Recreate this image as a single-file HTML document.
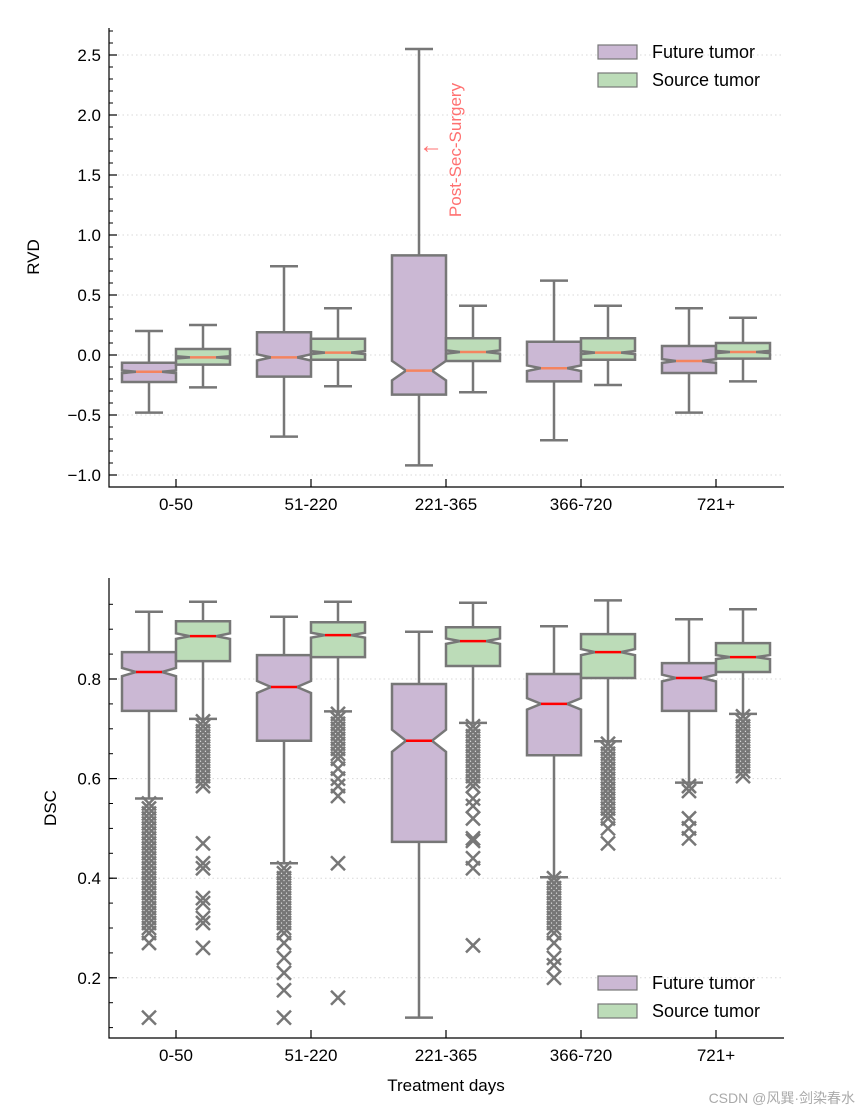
<!DOCTYPE html>
<html><head><meta charset="utf-8"><style>
body{margin:0;background:#fff;}
svg text{font-family:"Liberation Sans","Noto Sans CJK SC",sans-serif;}
</style></head><body>
<svg id="c" width="860" height="1112" viewBox="0 0 860 1112" xmlns="http://www.w3.org/2000/svg"></svg>
<script>
const categories=["0-50","51-220","221-365","366-720","721+"];
// RVD stats [low, q1, median, q3, high]
const rvdFuture=[[-0.48,-0.225,-0.14,-0.065,0.2],[-0.68,-0.18,-0.02,0.19,0.74],[-0.92,-0.33,-0.13,0.83,2.55],[-0.71,-0.22,-0.11,0.11,0.62],[-0.48,-0.15,-0.05,0.075,0.39]];
const rvdSource=[[-0.27,-0.08,-0.02,0.05,0.25],[-0.26,-0.04,0.02,0.135,0.39],[-0.31,-0.05,0.025,0.14,0.41],[-0.25,-0.04,0.02,0.14,0.41],[-0.22,-0.03,0.025,0.1,0.31]];
// DSC stats
const dscFuture=[[0.56,0.736,0.814,0.854,0.935],[0.43,0.676,0.784,0.848,0.925],[0.12,0.473,0.676,0.79,0.895],[0.402,0.647,0.75,0.81,0.906],[0.592,0.736,0.802,0.832,0.92]];
const dscSource=[[0.72,0.836,0.886,0.916,0.955],[0.735,0.844,0.888,0.914,0.955],[0.712,0.826,0.876,0.904,0.953],[0.675,0.802,0.854,0.89,0.958],[0.73,0.814,0.844,0.872,0.94]];
const dscFutureOut=[
[0.55,0.54,0.53,0.52,0.51,0.5,0.49,0.48,0.47,0.46,0.45,0.44,0.43,0.42,0.41,0.4,0.39,0.38,0.37,0.36,0.35,0.34,0.33,0.32,0.31,0.3,0.29,0.27,0.12],
[0.42,0.41,0.4,0.39,0.38,0.37,0.36,0.35,0.34,0.33,0.32,0.31,0.3,0.29,0.27,0.24,0.21,0.175,0.12],
[],
[0.4,0.39,0.38,0.37,0.36,0.35,0.34,0.33,0.32,0.31,0.3,0.29,0.27,0.24,0.225,0.2],
[0.585,0.575,0.52,0.5,0.48]];
const dscSourceOut=[
[0.715,0.705,0.695,0.685,0.675,0.665,0.655,0.645,0.635,0.625,0.615,0.605,0.595,0.585,0.47,0.43,0.42,0.36,0.35,0.32,0.31,0.26],
[0.73,0.72,0.71,0.7,0.69,0.68,0.67,0.66,0.65,0.64,0.62,0.6,0.585,0.565,0.43,0.16],
[0.705,0.695,0.685,0.675,0.665,0.655,0.645,0.635,0.625,0.615,0.605,0.595,0.585,0.56,0.545,0.52,0.48,0.475,0.44,0.42,0.265],
[0.67,0.66,0.65,0.64,0.63,0.62,0.61,0.6,0.59,0.58,0.57,0.56,0.55,0.54,0.53,0.52,0.5,0.47],
[0.725,0.715,0.705,0.695,0.685,0.675,0.665,0.655,0.645,0.635,0.625,0.615,0.605]];
const rvdTicks=[-1.0,-0.5,0.0,0.5,1.0,1.5,2.0,2.5];
const rvdTickLabels=["\u22121.0","\u22120.5","0.0","0.5","1.0","1.5","2.0","2.5"];
const dscTicks=[0.2,0.4,0.6,0.8];
const dscTickLabels=["0.2","0.4","0.6","0.8"];

const NS="http://www.w3.org/2000/svg";
const svg=document.getElementById('c');
function el(tag,attrs,parent){const e=document.createElementNS(NS,tag);for(const k in attrs)e.setAttribute(k,attrs[k]);(parent||svg).appendChild(e);return e;}
const X0=109,X1=784;
const xCat=i=>176+i*135;
const PURPLE="#cbb8d4",GREEN="#bcdcb8",EDGE="#777777";

function panel(o){
  const g=el('g',{});
  
  
  const y=o.y;
  o.ticks.forEach((t,i)=>{
    const gl=el('line',{x1:X0,x2:X1,y1:y(t),y2:y(t),stroke:"#d8d8d8","stroke-width":1,"stroke-dasharray":"1.5,3"},g);
    
    
  });
  for(let v=o.minStart;v<=o.dmax+1e-9;v+=o.minStep){
    const t=el('line',{x1:X0,x2:X0+4,y1:y(v),y2:y(v),stroke:"#000","stroke-width":1},g);
    
    
  }
  o.ticks.forEach((t,i)=>{
    const tk=el('line',{x1:X0,x2:X0+8,y1:y(t),y2:y(t),stroke:"#000","stroke-width":1.2},g);
    
    
    const tl=el('text',{x:X0-8,y:y(t)+6,"text-anchor":"end","font-size":17,fill:"#000"},g);
    tl.textContent=o.tickLabels[i];
    
    
  });
  const drawBox=(s,cx,fill,medColor,outs,nm)=>{
    const bg=el('g',{},g);
    
    
    const [lo,q1,md,q3,hi]=s;
    const hw=27, nw=13;
    let nh=0.07*(q3-q1);
    const nlo=Math.max(q1,md-nh), nhi=Math.min(q3,md+nh);
    el('line',{x1:cx,x2:cx,y1:y(q3),y2:y(hi),stroke:EDGE,"stroke-width":2.5},bg);
    el('line',{x1:cx,x2:cx,y1:y(q1),y2:y(lo),stroke:EDGE,"stroke-width":2.5},bg);
    el('line',{x1:cx-14,x2:cx+14,y1:y(hi),y2:y(hi),stroke:EDGE,"stroke-width":2.5},bg);
    el('line',{x1:cx-14,x2:cx+14,y1:y(lo),y2:y(lo),stroke:EDGE,"stroke-width":2.5},bg);
    const pts=[[cx-hw,y(q1)],[cx+hw,y(q1)],[cx+hw,y(nlo)],[cx+nw,y(md)],[cx+hw,y(nhi)],[cx+hw,y(q3)],[cx-hw,y(q3)],[cx-hw,y(nhi)],[cx-nw,y(md)],[cx-hw,y(nlo)]];
    el('polygon',{points:pts.map(p=>p.join(',')).join(' '),fill:fill,stroke:EDGE,"stroke-width":2.5},bg);
    el('line',{x1:cx-nw,x2:cx+nw,y1:y(md),y2:y(md),stroke:medColor,"stroke-width":2.5},bg);
    (outs||[]).forEach(v=>{
      const yy=y(v);
      const m=el('path',{d:`M${cx-7},${yy-7}L${cx+7},${yy+7}M${cx-7},${yy+7}L${cx+7},${yy-7}`,stroke:EDGE,"stroke-width":2.5,fill:"none"},bg);
      
      
    });
  };
  categories.forEach((c,i)=>{
    drawBox(o.future[i],xCat(i)-27,PURPLE,o.med,o.fOut?o.fOut[i]:null,'future-box-'+c);
    drawBox(o.source[i],xCat(i)+27,GREEN,o.med,o.sOut?o.sOut[i]:null,'source-box-'+c);
    const tk=el('line',{x1:xCat(i),x2:xCat(i),y1:o.yb,y2:o.yb-8,stroke:"#000","stroke-width":1.2},g);
    
    
    const tl=el('text',{x:xCat(i),y:o.yb+23,"text-anchor":"middle","font-size":17,fill:"#000"},g);
    tl.textContent=c;
    
    
  });
  const sp=el('path',{d:`M${X0},${o.yt}V${o.yb}H${X1}`,stroke:"#000","stroke-width":1.2,fill:"none"},g);
  
  
  [["Future tumor",PURPLE],["Source tumor",GREEN]].forEach((l,i)=>{
    const lg=el('g',{},g);
    
    
    const ly=o.legY+i*28;
    el('rect',{x:598,y:ly-7,width:39,height:14,fill:l[1],stroke:EDGE,"stroke-width":1.2},lg);
    const t=el('text',{x:652,y:ly+6,"font-size":18,fill:"#000"},lg);
    t.textContent=l[0];
  });
}
const yR=v=>355-v*120;
panel({name:'rvd-panel',y:yR,ticks:rvdTicks,tickLabels:rvdTickLabels,minStart:-1.1,minStep:0.1,dmax:2.7,future:rvdFuture,source:rvdSource,med:"#f4845f",yt:28,yb:487,legY:52});
const yD=v=>679-(v-0.8)*498;
panel({name:'dsc-panel',y:yD,ticks:dscTicks,tickLabels:dscTickLabels,minStart:0.1,minStep:0.05,dmax:0.99,future:dscFuture,source:dscSource,fOut:dscFutureOut,sOut:dscSourceOut,med:"#ff0000",yt:578,yb:1038,legY:983});

function txt(s,a,name){const t=el('text',a);t.textContent=s;return t;}
txt("RVD",{x:39,y:257,"font-size":17,"text-anchor":"middle",transform:"rotate(-90 39 257)"},'y-axis-title-rvd');
txt("DSC",{x:56,y:808,"font-size":17,"text-anchor":"middle",transform:"rotate(-90 56 808)"},'y-axis-title-dsc');
txt("Treatment days",{x:446,y:1091,"font-size":17,"text-anchor":"middle"},'x-axis-title');
txt("\u2190",{x:431,y:153,"font-size":24,"text-anchor":"middle",fill:"#ff7070"},'annotation-arrow');
txt("Post-Sec-Surgery",{x:461,y:150,"font-size":17,"text-anchor":"middle",fill:"#ff7070",transform:"rotate(-90 461 150)"},'annotation-text');
txt("CSDN @风巽·剑染春水",{x:855,y:1103,"font-size":14,"text-anchor":"end",fill:"#aaaaaa"},'watermark');
</script>
</body></html>
